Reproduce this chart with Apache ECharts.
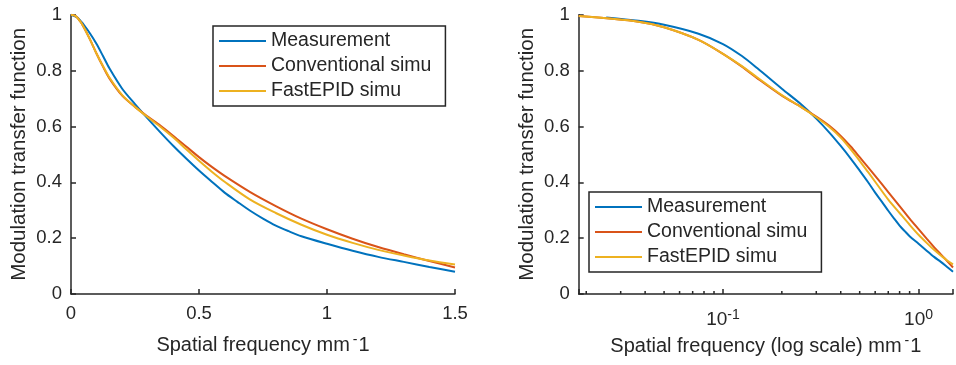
<!DOCTYPE html>
<html>
<head>
<meta charset="utf-8">
<script src="https://cdn.jsdelivr.net/npm/echarts@6/dist/echarts.min.js"></script>
<style>
  html, body { margin: 0; padding: 0; background: #ffffff; }
  #chart { width: 956px; height: 365px; }
</style>
</head>
<body>
<div id="chart"></div>
<script>
// MTF curves: measured edge response vs. two simulation approaches
const seriesNames = ['Measurement', 'Conventional simu', 'FastEPID simu'];

// spatial frequency (mm^-1) of the measured curve
const measFreq = [0, 0.0253, 0.037, 0.05, 0.075, 0.1, 0.125, 0.15, 0.2, 0.25, 0.3, 0.35, 0.4, 0.45,
  0.5, 0.55, 0.6, 0.65, 0.7, 0.75, 0.8, 0.85, 0.9, 1.0, 1.1, 1.2, 1.3, 1.4, 1.5];
const measMTF = [1.0, 0.99, 0.978, 0.964, 0.932, 0.895, 0.852, 0.808, 0.735, 0.68, 0.628, 0.578, 0.53, 0.485,
  0.442, 0.402, 0.363, 0.33, 0.298, 0.27, 0.245, 0.225, 0.207, 0.18, 0.155, 0.133, 0.115, 0.097, 0.08];

// spatial frequency (mm^-1) of the simulated curves
const simFreq = [0, 0.0183, 0.037, 0.05, 0.075, 0.1, 0.125, 0.15, 0.2, 0.25, 0.3, 0.35, 0.4, 0.45,
  0.5, 0.55, 0.6, 0.7, 0.8, 0.9, 1.0, 1.1, 1.2, 1.3, 1.4, 1.5];
const convMTF = [1.0, 0.995, 0.975, 0.955, 0.91, 0.86, 0.814, 0.772, 0.71, 0.67, 0.635, 0.602, 0.566, 0.528,
  0.49, 0.455, 0.423, 0.365, 0.315, 0.27, 0.232, 0.198, 0.168, 0.142, 0.118, 0.095];
const fastMTF = [1.0, 0.995, 0.975, 0.955, 0.91, 0.86, 0.816, 0.775, 0.712, 0.67, 0.633, 0.598, 0.56, 0.518,
  0.477, 0.438, 0.402, 0.338, 0.29, 0.248, 0.212, 0.183, 0.158, 0.138, 0.12, 0.106];

// minor tick positions of the logarithmic frequency axis
const logMinorTicks = [0.02, 0.03, 0.04, 0.05, 0.06, 0.07, 0.08, 0.09,
  0.2, 0.3, 0.4, 0.5, 0.6, 0.7, 0.8, 0.9];

const INK = '#262626';
const FONT = '"Liberation Sans", Arial, Helvetica, sans-serif';
const COLORS = ['#0072BD', '#D95319', '#EDB120'];

const pairs = (xs, ys) => xs.map((x, i) => [x, ys[i]]);
const positive = (pts) => pts.filter(p => p[0] > 0);

const curves = [pairs(measFreq, measMTF), pairs(simFreq, convMTF), pairs(simFreq, fastMTF)];

const axisLineStyle = { color: INK, width: 1.5 };

function xName(text) {
  return '{txt|' + text + '}{sup|-}{txt|1}';
}
const xNameStyle = {
  fontSize: 20, color: INK, fontFamily: FONT,
  rich: {
    txt: { fontSize: 20, lineHeight: 24, color: INK, fontFamily: FONT },
    sup: { fontSize: 14, lineHeight: 10, verticalAlign: 'top', color: INK, fontFamily: FONT, padding: [0, 1, 0, 3] }
  }
};

function yAxisCfg(gridIndex) {
  return {
    type: 'value', gridIndex: gridIndex, min: 0, max: 1, interval: 0.2,
    name: 'Modulation transfer function', nameLocation: 'middle', nameGap: 41,
    nameTextStyle: { fontSize: 20.5, color: INK, fontFamily: FONT },
    axisLine: { show: true, lineStyle: axisLineStyle },
    axisTick: { show: true, inside: true, length: 5, lineStyle: axisLineStyle },
    axisLabel: { fontSize: 18.5, color: INK, fontFamily: FONT, margin: 9 },
    splitLine: { show: false }
  };
}

function legendCfg(left, top) {
  return {
    data: seriesNames, orient: 'vertical', left: left, top: top,
    icon: 'rect', itemWidth: 47, itemHeight: 2, itemGap: 0,
    selectedMode: false,
    borderColor: INK, borderWidth: 1.5, borderRadius: 0,
    padding: [2.5, 14, 2.5, 6],
    backgroundColor: '#ffffff',
    textStyle: { fontSize: 19.5, lineHeight: 25, color: INK, fontFamily: FONT }
  };
}

function lineSeries(i, axisIndex, data) {
  return {
    type: 'line', name: seriesNames[i], xAxisIndex: axisIndex, yAxisIndex: axisIndex,
    data: data, showSymbol: false, smooth: 0.3, clip: true,
    lineStyle: { color: COLORS[i], width: 2 },
    itemStyle: { color: COLORS[i] },
    z: 2
  };
}

const option = {
  animation: false,
  backgroundColor: '#ffffff',
  grid: [
    { left: 71, right: 501, top: 14.7, bottom: 71 },
    { left: 578.7, right: -7.1, top: 14.7, bottom: 71 }
  ],
  legend: [legendCfg(213, 26), legendCfg(589, 192)],
  xAxis: [
    {
      type: 'value', gridIndex: 0, min: 0, max: 1.5, interval: 0.5,
      name: xName('Spatial frequency mm'), nameLocation: 'middle', nameGap: 39,
      nameTextStyle: xNameStyle,
      axisLine: { show: true, lineStyle: axisLineStyle },
      axisTick: { show: true, inside: true, length: 5, lineStyle: axisLineStyle },
      axisLabel: { fontSize: 18.5, color: INK, fontFamily: FONT, margin: 10 },
      splitLine: { show: false }
    },
    {
      type: 'log', logBase: 10, gridIndex: 1, min: 0.0183, max: 1.5,
      name: xName('Spatial frequency (log scale) mm'), nameLocation: 'middle', nameGap: 39,
      nameTextStyle: xNameStyle,
      axisLine: { show: true, lineStyle: axisLineStyle },
      axisTick: { show: true, inside: true, length: 5, lineStyle: axisLineStyle },
      axisLabel: {
        margin: 14, fontSize: 19, color: INK, fontFamily: FONT,
        formatter: function (v) {
          const e = Math.log10(v);
          const r = Math.round(e);
          if (Math.abs(e - r) > 1e-6) return '';
          return '{base|10}{pow|' + r + '}';
        },
        rich: {
          base: { fontSize: 19, lineHeight: 24, color: INK, fontFamily: FONT },
          pow: { fontSize: 14, lineHeight: 10, verticalAlign: 'top', color: INK, fontFamily: FONT }
        }
      },
      splitLine: { show: false }
    }
  ],
  yAxis: [yAxisCfg(0), yAxisCfg(1)],
  series: [
    lineSeries(0, 0, curves[0]),
    lineSeries(1, 0, curves[1]),
    lineSeries(2, 0, curves[2]),
    lineSeries(0, 1, positive(curves[0])),
    lineSeries(1, 1, positive(curves[1])),
    lineSeries(2, 1, positive(curves[2])),
    {
      type: 'custom', name: 'logMinorTicks', xAxisIndex: 1, yAxisIndex: 1, silent: true, z: 3,
      data: logMinorTicks.map(v => [v, 0]),
      renderItem: function (params, api) {
        const p = api.coord([api.value(0), api.value(1)]);
        return {
          type: 'line',
          shape: { x1: p[0], y1: p[1], x2: p[0], y2: p[1] - 3 },
          style: { stroke: INK, lineWidth: 1.5 }
        };
      }
    }
  ]
};

const chart = echarts.init(document.getElementById('chart'), null, { renderer: 'canvas' });
chart.setOption(option);
</script>
</body>
</html>
